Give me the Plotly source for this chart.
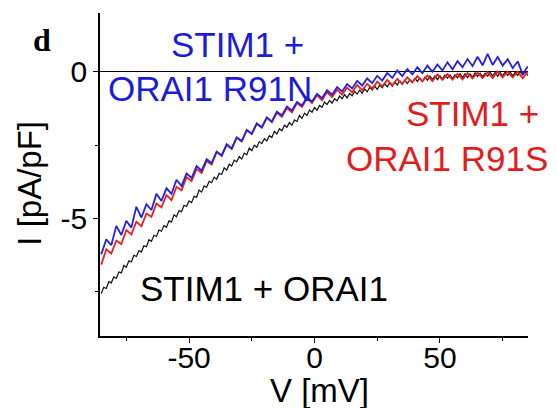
import plotly.graph_objects as go

# ---- data ----
v_black = list(range(-85, 86, 1))
i_black = [
    -7.55, -7.34, -7.38, -7.15, -7.19, -6.99,
    -7.04, -6.82, -6.85, -6.60, -6.66,
    -6.44, -6.48, -6.25, -6.29, -6.09,
    -6.14, -5.93, -5.96, -5.72, -5.78,
    -5.57, -5.61, -5.39, -5.43, -5.24,
    -5.30, -5.08, -5.12, -4.87, -4.94,
    -4.73, -4.77, -4.55, -4.59, -4.40,
    -4.46, -4.24, -4.28, -4.03, -4.10,
    -3.89, -3.94, -3.73, -3.78, -3.59,
    -3.66, -3.46, -3.50, -3.27, -3.35,
    -3.15, -3.21, -3.01, -3.07, -2.89,
    -2.97, -2.77, -2.83, -2.60, -2.69,
    -2.50, -2.57, -2.38, -2.45, -2.28,
    -2.36, -2.18, -2.24, -2.03, -2.12,
    -1.94, -2.01, -1.82, -1.89, -1.73,
    -1.82, -1.64, -1.70, -1.49, -1.59,
    -1.41, -1.49, -1.30, -1.38, -1.22,
    -1.31, -1.15, -1.21, -1.03, -1.12,
    -0.98, -1.07, -0.92, -0.99, -0.83,
    -0.92, -0.78, -0.89, -0.74, -0.82,
    -0.67, -0.76, -0.63, -0.73, -0.59,
    -0.68, -0.53, -0.62, -0.49, -0.60,
    -0.46, -0.55, -0.41, -0.51, -0.38,
    -0.49, -0.36, -0.45, -0.31, -0.41,
    -0.29, -0.40, -0.27, -0.36, -0.22,
    -0.33, -0.21, -0.32, -0.19, -0.29,
    -0.15, -0.26, -0.15, -0.27, -0.14,
    -0.24, -0.11, -0.22, -0.11, -0.23,
    -0.10, -0.21, -0.07, -0.19, -0.07,
    -0.20, -0.07, -0.18, -0.04, -0.16,
    -0.05, -0.17, -0.05, -0.15, -0.02,
    -0.14, -0.03, -0.15, -0.03, -0.14,
    -0.01, -0.13, -0.01, -0.14, -0.02,
    -0.13, 0.00, -0.11, 0.00, -0.13,
]

v_color = list(range(-85, 86, 2))
i_red = [
    -6.57, -6.05, -6.19, -5.75, -5.87, -5.39, -5.54, -5.11, -5.26, -4.83,
    -4.94, -4.49, -4.62, -4.20, -4.37, -3.92, -4.04, -3.59, -3.72, -3.31,
    -3.45, -3.04, -3.16, -2.73, -2.87, -2.49, -2.63, -2.24, -2.37, -1.98,
    -2.12, -1.76, -1.89, -1.56, -1.72, -1.39, -1.54, -1.24, -1.38, -1.07,
    -1.20, -0.91, -1.07, -0.80, -0.97, -0.69, -0.86, -0.61, -0.78, -0.54,
    -0.70, -0.45, -0.63, -0.41, -0.58, -0.34, -0.50, -0.28, -0.46, -0.24,
    -0.42, -0.19, -0.36, -0.15, -0.33, -0.13, -0.32, -0.09, -0.28, -0.08,
    -0.27, -0.07, -0.26, -0.05, -0.23, -0.03, -0.22, -0.02, -0.22, 0.00,
    -0.19, 0.00, -0.19, 0.00, -0.22, 0.00,
]
i_blue = [
    -6.22, -5.71, -5.91, -5.25, -5.56, -5.08, -5.31, -4.60, -4.97, -4.51,
    -4.71, -4.16, -4.40, -3.97, -4.16, -3.68, -3.89, -3.47, -3.62, -3.21,
    -3.37, -2.98, -3.11, -2.72, -2.85, -2.47, -2.61, -2.24, -2.36, -1.99,
    -2.11, -1.77, -1.90, -1.56, -1.69, -1.36, -1.49, -1.19, -1.32, -1.03,
    -1.15, -0.87, -1.01, -0.75, -0.90, -0.63, -0.78, -0.52, -0.67, -0.42,
    -0.57, -0.31, -0.47, -0.23, -0.39, -0.14, -0.30, -0.04, -0.21, 0.04,
    -0.15, 0.09, -0.09, 0.15, -0.05, 0.21, 0.00, 0.25, 0.04, 0.32,
    0.08, 0.36, 0.15, 0.43, 0.19, 0.51, 0.22, 0.61, 0.23, 0.50,
    0.21, 0.43, 0.12, 0.35, -0.09, 0.18,
]

x_tickvals = [-50, 0, 50]
x_ticktext = ["-50", "0", "50"]
x_minor = [-75, -25, 25, 75]
y_tickvals = [0, -5]
y_ticktext = ["0", "-5"]
y_minor = [-2.5, -7.5]

x_title = "V [mV]"
y_title = "I [pA/pF]"

labels = [
    # text, x (mV), y (pA/pF), color
    ("STIM1 +", -30.5, 0.92, "#1c1cd8"),
    ("ORAI1 R91N", -41.8, -0.58, "#1c1cd8"),
    ("STIM1 +", 63.1, -1.43, "#e01e1e"),
    ("ORAI1 R91S", 52.8, -2.96, "#e01e1e"),
    ("STIM1 + ORAI1", -20.3, -7.39, "#000000"),
]

FONT = "Liberation Sans, Arial, Helvetica, sans-serif"

fig = go.Figure()
fig.add_trace(go.Scatter(x=v_black, y=i_black, mode="lines",
                         line=dict(color="#111111", width=1.2), showlegend=False))
fig.add_trace(go.Scatter(x=v_color, y=i_red, mode="lines",
                         line=dict(color="#e52222", width=1.8), showlegend=False))
fig.add_trace(go.Scatter(x=v_color, y=i_blue, mode="lines",
                         line=dict(color="#2222e0", width=1.8), showlegend=False))

for text, x, y, color in labels:
    fig.add_annotation(x=x, y=y, xref="x", yref="y", text=text, showarrow=False,
                       font=dict(family=FONT, size=35, color=color),
                       xanchor="center", yanchor="middle")

# panel letter
fig.add_annotation(x=-0.1355, y=0.916, xref="paper", yref="paper", text="<b>d</b>",
                   showarrow=False, font=dict(family="Liberation Serif, Times New Roman, serif",
                                              size=32, color="black"),
                   xanchor="center", yanchor="middle")
# axis titles
fig.add_annotation(x=0.514, y=-0.169, xref="paper", yref="paper", text=x_title,
                   showarrow=False, font=dict(family=FONT, size=33, color="black"),
                   xanchor="center", yanchor="middle")
fig.add_annotation(x=-0.164, y=0.474, xref="paper", yref="paper", text=y_title,
                   textangle=-90, showarrow=False,
                   font=dict(family=FONT, size=33, color="black"),
                   xanchor="center", yanchor="middle")

fig.update_layout(
    width=557, height=408,
    margin=dict(l=100, r=29, t=13, b=72, autoexpand=False),
    paper_bgcolor="white", plot_bgcolor="white",
    font=dict(family=FONT, color="black"),
)
fig.update_xaxes(
    range=[-85.5, 85.1], showgrid=False, zeroline=False, automargin=False,
    showline=True, linecolor="black", linewidth=1.5,
    ticks="outside", ticklen=5, tickwidth=1.2, tickcolor="black",
    tickvals=x_tickvals, ticktext=x_ticktext, ticklabelstandoff=-11,
    tickfont=dict(family=FONT, size=30, color="black"),
    minor=dict(tickvals=x_minor, ticks="outside", ticklen=3, tickwidth=1.2, tickcolor="black"),
)
fig.update_yaxes(
    range=[-9, 2], showgrid=False, automargin=False,
    zeroline=True, zerolinecolor="black", zerolinewidth=1.2,
    showline=True, linecolor="black", linewidth=1.5,
    ticks="outside", ticklen=5, tickwidth=1.2, tickcolor="black",
    tickvals=y_tickvals, ticktext=y_ticktext,
    tickfont=dict(family=FONT, size=30, color="black"),
    minor=dict(tickvals=y_minor, ticks="outside", ticklen=3, tickwidth=1.2, tickcolor="black"),
)

fig.write_html("out.html", config={"displayModeBar": False},
               post_script="document.body.style.margin='0';")
